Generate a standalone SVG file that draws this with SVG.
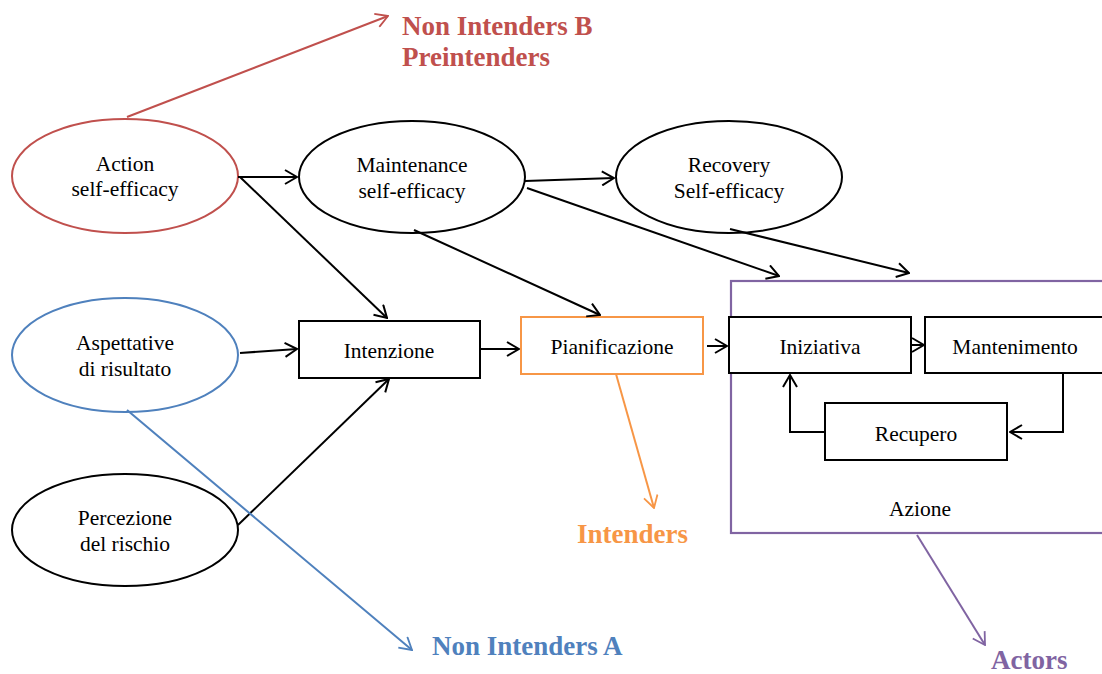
<svg xmlns="http://www.w3.org/2000/svg" width="1102" height="674" viewBox="0 0 1102 674">
  <style>
    .lbl { font-family: "Liberation Serif", "DejaVu Serif", serif; font-size: 21.5px; fill: #000; text-anchor: middle; }
    .tag { font-family: "Liberation Serif", "DejaVu Serif", serif; font-size: 27px; font-weight: bold; }
    .node { fill: #fff; stroke: #000; stroke-width: 2; }
    .edge { fill: none; stroke: #000; stroke-width: 2; }
    .red { stroke: #C0504D; }
    .blue { stroke: #4F81BD; }
    .orange { stroke: #F79646; }
    .purple { stroke: #8064A2; }
  </style>
  <defs>
    <marker id="ah" viewBox="0 0 14 16" refX="13" refY="8" markerWidth="14" markerHeight="16" markerUnits="userSpaceOnUse" orient="auto">
      <path d="M1,1 L13,8 L1,15" fill="none" stroke="#000" stroke-width="2"/>
    </marker>
    <marker id="ah-red" viewBox="0 0 14 16" refX="13" refY="8" markerWidth="14" markerHeight="16" markerUnits="userSpaceOnUse" orient="auto">
      <path d="M1,1 L13,8 L1,15" fill="none" stroke="#C0504D" stroke-width="1.8"/>
    </marker>
    <marker id="ah-blue" viewBox="0 0 14 16" refX="13" refY="8" markerWidth="14" markerHeight="16" markerUnits="userSpaceOnUse" orient="auto">
      <path d="M1,1 L13,8 L1,15" fill="none" stroke="#4F81BD" stroke-width="1.8"/>
    </marker>
    <marker id="ah-orange" viewBox="0 0 14 16" refX="13" refY="8" markerWidth="14" markerHeight="16" markerUnits="userSpaceOnUse" orient="auto">
      <path d="M1,1 L13,8 L1,15" fill="none" stroke="#F79646" stroke-width="1.8"/>
    </marker>
    <marker id="ah-purple" viewBox="0 0 14 16" refX="13" refY="8" markerWidth="14" markerHeight="16" markerUnits="userSpaceOnUse" orient="auto">
      <path d="M1,1 L13,8 L1,15" fill="none" stroke="#8064A2" stroke-width="1.8"/>
    </marker>
  </defs>

  <rect width="1102" height="674" fill="#fff"/>

  <!-- Action container -->
  <g id="azione">
    <rect x="731" y="281" width="380" height="252" fill="#fff" stroke="#8064A2" stroke-width="2.2"/>
    <text class="lbl" x="920" y="516">Azione</text>
  </g>

  <g id="action-se">
    <ellipse cx="125" cy="176" rx="113" ry="57" fill="#fff" stroke="#C0504D" stroke-width="2"/>
    <text class="lbl" x="125" y="171">Action</text>
    <text class="lbl" x="125" y="196">self-efficacy</text>
  </g>
  <g id="maintenance-se">
    <ellipse class="node" cx="412" cy="177" rx="113" ry="56"/>
    <text class="lbl" x="412" y="172">Maintenance</text>
    <text class="lbl" x="412" y="198">self-efficacy</text>
  </g>
  <g id="recovery-se">
    <ellipse class="node" cx="729" cy="177" rx="113" ry="56"/>
    <text class="lbl" x="729" y="172">Recovery</text>
    <text class="lbl" x="729" y="198">Self-efficacy</text>
  </g>
  <g id="aspettative">
    <ellipse cx="125" cy="355" rx="113" ry="57" fill="#fff" stroke="#4F81BD" stroke-width="2"/>
    <text class="lbl" x="125" y="350">Aspettative</text>
    <text class="lbl" x="125" y="376">di risultato</text>
  </g>
  <g id="percezione">
    <ellipse class="node" cx="125" cy="530" rx="113" ry="56"/>
    <text class="lbl" x="125" y="525">Percezione</text>
    <text class="lbl" x="125" y="551">del rischio</text>
  </g>
  <g id="intenzione">
    <rect class="node" x="299" y="321" width="181" height="57"/>
    <text class="lbl" x="389" y="358">Intenzione</text>
  </g>
  <g id="pianificazione">
    <rect x="521" y="317" width="182" height="57" fill="#fff" stroke="#F79646" stroke-width="2"/>
    <text class="lbl" x="612" y="354">Pianificazione</text>
  </g>
  <g id="iniziativa">
    <rect class="node" x="729" y="317" width="182" height="56"/>
    <text class="lbl" x="820" y="354">Iniziativa</text>
  </g>
  <g id="mantenimento">
    <rect class="node" x="925" y="317" width="182" height="56"/>
    <text class="lbl" x="1015" y="354">Mantenimento</text>
  </g>
  <g id="recupero">
    <rect class="node" x="825" y="403" width="182" height="57"/>
    <text class="lbl" x="916" y="441">Recupero</text>
  </g>

  <!-- Connectors -->
  <g id="connectors">
    <line class="edge" x1="238" y1="177" x2="297" y2="177" marker-end="url(#ah)"/>
    <line class="edge" x1="240" y1="177" x2="387" y2="318" marker-end="url(#ah)"/>
    <line class="edge" x1="525" y1="181" x2="614" y2="178" marker-end="url(#ah)"/>
    <line class="edge" x1="527" y1="188" x2="779" y2="276" marker-end="url(#ah)"/>
    <line class="edge" x1="414" y1="230" x2="600" y2="315" marker-end="url(#ah)"/>
    <line class="edge" x1="730" y1="229" x2="909" y2="273" marker-end="url(#ah)"/>
    <line class="edge" x1="240" y1="353" x2="297" y2="349" marker-end="url(#ah)"/>
    <line class="edge" x1="238" y1="525" x2="389" y2="379" marker-end="url(#ah)"/>
    <line class="edge" x1="480" y1="349" x2="519" y2="349" marker-end="url(#ah)"/>
    <line class="edge" x1="707" y1="346" x2="727" y2="346" marker-end="url(#ah)"/>
    <line class="edge" x1="911" y1="345" x2="924" y2="345" marker-end="url(#ah)"/>
    <polyline class="edge" points="1063,373 1063,432 1010,432" marker-end="url(#ah)"/>
    <polyline class="edge" points="825,432 790,432 790,375" marker-end="url(#ah)"/>

    <line class="edge red" stroke-width="1.8" x1="127" y1="117" x2="388" y2="16" marker-end="url(#ah-red)"/>
    <line class="edge blue" stroke-width="1.8" x1="127" y1="410" x2="412" y2="650" marker-end="url(#ah-blue)"/>
    <line class="edge orange" stroke-width="1.8" x1="616" y1="374" x2="654" y2="508" marker-end="url(#ah-orange)"/>
    <line class="edge purple" stroke-width="1.8" x1="917" y1="535" x2="985" y2="645" marker-end="url(#ah-purple)"/>
  </g>

  <!-- Group labels -->
  <g id="labels">
    <text class="tag" x="402" y="35" fill="#C0504D">Non Intenders B</text>
    <text class="tag" x="402" y="66" fill="#C0504D">Preintenders</text>
    <text class="tag" x="432" y="655" fill="#4F81BD">Non Intenders A</text>
    <text class="tag" x="577" y="543" fill="#F79646">Intenders</text>
    <text class="tag" x="991" y="669" fill="#8064A2">Actors</text>
  </g>
</svg>
